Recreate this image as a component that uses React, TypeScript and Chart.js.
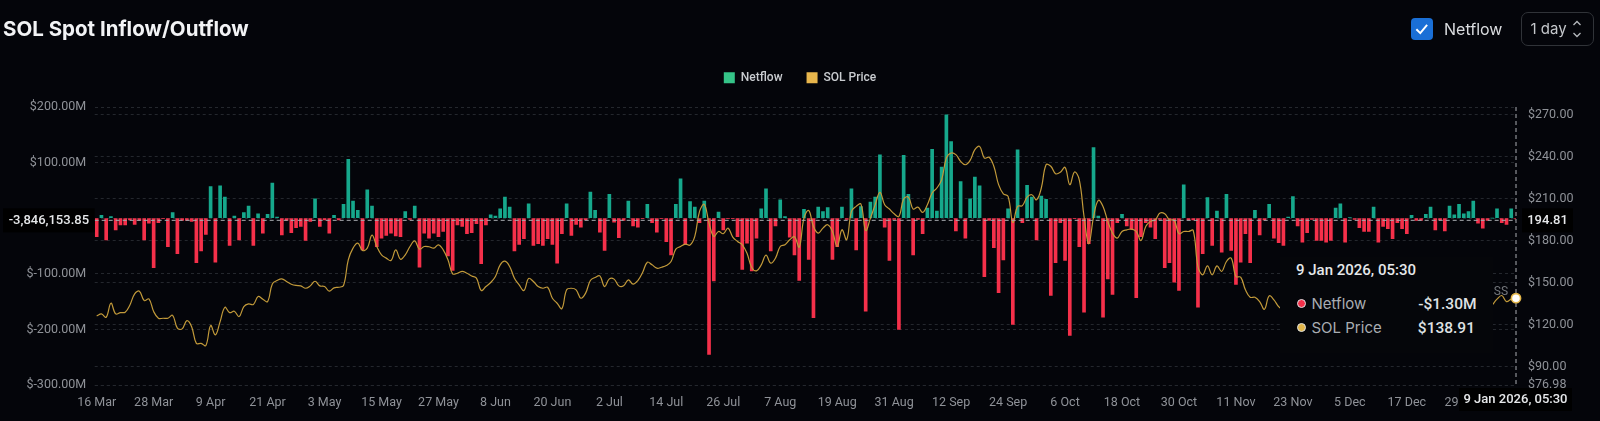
import React, { useEffect, useRef } from 'react';
import { Chart, registerables } from 'chart.js';

Chart.register(...registerables);

// one entry per day, 16 Mar 2025 to 9 Jan 2026, in $M
const netflowValues = [
  -33, 5, -39, 3, -21, -12, -12, -3, -11, -4,
  -39, -9, -89, -8, -1, -51, 10, -64, -4, -4,
  -6, -80, -59, -29, 57, -79, 58, 38, -49, 4,
  -39, 10, 22, -49, 8, -27, 7, 63, 2, -30,
  -4, -26, -17, -15, -40, -6, 35, -15, -3, -27,
  5, -3, 25, 106, 31, 14, -57, 51, 22, -51,
  -36, -31, -27, -32, -33, 12, -2, 22, -88, -27,
  -36, -27, -33, -24, -68, -94, -12, -15, -28, -26,
  -10, -82, -12, 6, 4, 17, 38, 20, -59, -47,
  -37, 26, -49, -46, -49, -37, -47, -81, -28, 26,
  -31, -11, -16, -3, 47, 14, -25, -58, 43, -7,
  -35, -4, 31, -14, -16, -1, 25, -8, -25, -1,
  -42, -66, 25, 71, -47, 30, 20, -8, 31, -245,
  -113, 11, -21, -1, -1, -33, -92, -45, -95, -36,
  17, 53, -59, -14, 33, 3, -34, -66, -112, 16,
  -74, -179, 20, 12, 19, -74, -51, 20, -2, 53,
  -57, 21, -167, 29, 38, 114, -16, -76, -2, -200,
  113, 43, -66, -2, -28, 18, 124, 13, 92, 186,
  138, -23, 66, -36, 35, 74, 58, -105, -4, -53,
  -134, -75, 17, -191, 123, -8, 59, 38, -39, 40,
  34, -139, -80, -8, -76, -211, -1, -51, -169, -46,
  127, 4, -178, -109, -137, -8, 7, -14, -20, -143,
  -33, -8, -16, -37, -2, -89, -80, -115, -130, 60,
  -3, -3, -160, -64, 37, -49, 13, -61, 43, -58,
  -119, -79, -28, -80, 14, -30, -3, 25, -36, -44,
  -49, 2, 39, -14, -43, -26, -2, -40, -40, -43,
  -40, 18, 26, -43, 1, -2, -17, -24, -24, 20,
  -43, -15, -19, -37, -8, -19, -28, 5, -4, -4,
  7, 20, -21, -3, -23, 22, 6, 25, 8, 12,
  31, -9, -18, -4, 0, 17, -8, -11, 17, -1.3,
];

// null where the tooltip hides the line
const solPrices = [
  126.3, 127.7, 125.3, 135.3, 127.7, 128.6, 128.9, 134.1, 142, 143.9,
  137.2, 138.4, 129.4, 124.6, 124.6, 124.6, 126.7, 117.5, 117, 122.9,
  118.6, 106.7, 106.7, 105.1, 119.4, 112.7, 122.2, 132.4, 128.6, 129.6,
  125.8, 132.9, 134.8, 134.4, 140.1, 138.2, 136.5, 149.1, 151.5, 152.7,
  150.8, 148.9, 148, 147.7, 146, 147.7, 151, 147.7, 147.2, 143.9,
  146.3, 146.7, 148, 166.3, 174.6, 178.2, 173, 174.6, 183.9, 175.8,
  169.8, 167.5, 165.8, 173.4, 166.7, 169.8, 175.8, 179.8, 173.9, 175.8,
  175.6, 174.6, 177, 173.4, 166.3, 156.3, 156.7, 158, 156.7, 154.8,
  153.2, 144.4, 147.2, 150.1, 154.4, 162.7, 165.3, 161.5, 153.2, 148.4,
  144.4, 153, 150.8, 147.2, 146, 146.7, 138.9, 135.3, 131.5, 144.9,
  146, 144.9, 138.9, 142.5, 151.5, 153.7, 154.8, 147.2, 152.7, 152.5,
  147.7, 147.7, 152, 148.9, 151.5, 157.2, 164.6, 162.7, 160.3, 161,
  162.2, 165.1, 173.9, 175.8, 177.5, 176.8, 183, 200.8, 205.8, 192.5,
  183, 186.5, 184.9, 188.9, 182.5, 179.4, 177, 171, 160.8, 158.4,
  162.7, 169.6, 163.9, 167.5, 175.8, 177, 180.6, 182.7, 175.3, 196,
  201.5, 190.1, 185.3, 188.9, 191.3, 186.5, 175.8, 187.7, 180.6, 200.8,
  204.4, 206, 187.2, 196, 205.6, 214.4, 205.6, 202.5, 199.1, 197.2,
  209.6, 211, 202.5, 203.9, 200.1, 205.6, 213.9, 217.5, 223.4, 238.9,
  242.5, 241.3, 236.5, 234.1, 237.2, 244.9, 247.2, 238.9, 239.4, 233,
  219.9, 213.4, 211.5, 193, 204.4, 204.9, 211, 212.7, 209.1, 217.5,
  234.1, 233, 227.7, 228.7, 232.2, 219.9, 228.9, 223.4, 197.2, 177.7,
  196.8, 208.7, 204.4, 193.7, 185.3, 181.8, 186.5, 187.7, 188.2, 186.5,
  180.1, 190.1, 193.7, 194.9, 199.6, 199.1, 194.9, 194.4, 184.9, 186.5,
  186.5, 187.2, 161.5, 155.6, 162, 155.6, 162, 158, 165.1, 167.5,
  154.4, 153.9, 144.9, 139.6, 139.6, 136.5, 131, 140.6, 137.7, 132.9,
  130.5, null, null, null, null, null, null, null, null, null,
  null, null, null, null, null, null, null, null, null, null,
  null, null, null, null, null, null, null, null, null, null,
  null, null, null, null, null, null, null, null, null, null,
  null, null, null, null, 134.1, 138.2, 140.8, 136.5, 138.2, 138.91,
];

const dateTicks = [0, 12, 24, 36, 48, 60, 72, 84, 96, 108, 120, 132, 144, 156, 168, 180, 192, 204, 216, 228, 240, 252, 264, 276, 288];
const dateLabels = ['16 Mar', '28 Mar', '9 Apr', '21 Apr', '3 May', '15 May', '27 May', '8 Jun', '20 Jun', '2 Jul', '14 Jul', '26 Jul', '7 Aug', '19 Aug', '31 Aug', '12 Sep', '24 Sep', '6 Oct', '18 Oct', '30 Oct', '11 Nov', '23 Nov', '5 Dec', '17 Dec', '29 Dec'];
const priceTicks = [76.98, 90, 120, 150, 180, 210, 240, 270];

const GREEN = '#16a88c';
const RED = '#f5304a';
const GOLD = '#c29a3a';
const BG = '#04050a';
const TICK = '#8f9298';
const GRID = '#24272d';
const FONT = 'Roboto, sans-serif';

const hoverIndex = 299;
const hoverFlow = -3.84615385;
const hoverPrice = 194.81;

function boxedLabel(ctx: CanvasRenderingContext2D, text: string, x: number, y: number, w: number, h: number) {
  ctx.fillStyle = '#000';
  ctx.fillRect(x, y, w, h);
  ctx.fillStyle = '#e6e8ea';
  ctx.font = `500 13px ${FONT}`;
  ctx.textAlign = 'center';
  ctx.textBaseline = 'middle';
  ctx.fillText(text, x + w / 2, y + h / 2);
}

const crosshair = {
  id: 'crosshair',
  afterDraw(chart: any) {
    const { ctx, chartArea, scales } = chart;
    const x = scales.x.getPixelForValue(hoverIndex);
    const y = scales.y.getPixelForValue(hoverFlow);
    const lineY = scales.price.getPixelForValue(solPrices[hoverIndex]);

    ctx.save();
    ctx.strokeStyle = '#a9acb1';
    ctx.lineWidth = 1;
    ctx.setLineDash([4, 3]);
    ctx.beginPath();
    ctx.moveTo(chartArea.left, y);
    ctx.lineTo(x, y);
    ctx.moveTo(x, chartArea.top);
    ctx.lineTo(x, chartArea.bottom);
    ctx.stroke();
    ctx.setLineDash([]);

    ctx.fillStyle = '#74777c';
    ctx.font = `12px ${FONT}`;
    ctx.textAlign = 'right';
    ctx.textBaseline = 'middle';
    ctx.fillText('SS', x - 8, lineY - 6);

    ctx.beginPath();
    ctx.arc(x, lineY, 4.6, 0, Math.PI * 2);
    ctx.fillStyle = '#ffffff';
    ctx.fill();
    ctx.strokeStyle = '#e3b64a';
    ctx.lineWidth = 1.6;
    ctx.stroke();

    boxedLabel(ctx, '-3,846,153.85', 3, y - 12, chartArea.left - 3, 24);
    boxedLabel(ctx, hoverPrice.toFixed(2), x + 6, y - 12, 51, 24);
    boxedLabel(ctx, '9 Jan 2026, 05:30', x - 57, chartArea.bottom + 3, 113, 23);
    ctx.restore();
  },
};

const App: React.FC = () => {
  const canvasRef = useRef<HTMLCanvasElement>(null);

  useEffect(() => {
    document.body.style.margin = '0';
    document.body.style.background = BG;
    if (!canvasRef.current) return;

    const chart = new Chart(canvasRef.current, {
      type: 'bar',
      data: {
        datasets: [
          {
            type: 'line',
            label: 'SOL Price',
            data: solPrices.map((y, x) => ({ x, y })),
            yAxisID: 'price',
            borderColor: GOLD,
            borderWidth: 1.2,
            pointRadius: 0,
            tension: 0.4,
            order: 1,
          },
          {
            type: 'bar',
            label: 'Netflow',
            data: netflowValues.map((y, x) => ({ x, y })),
            yAxisID: 'y',
            backgroundColor: netflowValues.map((v) => (v >= 0 ? GREEN : RED)),
            barThickness: 3,
            order: 2,
          },
        ],
      } as any,
      options: {
        responsive: false,
        animation: false,
        events: [],
        layout: { padding: { top: 47.7 } },
        plugins: {
          tooltip: { enabled: false },
          // empty subtitle only holds the gap between legend and plot
          subtitle: {
            display: true,
            text: ' ',
            weight: 0,
            font: { size: 10, lineHeight: 1 },
            padding: { top: 0, bottom: 3.3 },
          },
          legend: {
            position: 'top',
            labels: {
              boxWidth: 11,
              boxHeight: 11,
              padding: 24,
              color: '#c9ccd0',
              font: { family: FONT, size: 12, weight: 500 },
              generateLabels: () => [
                { text: 'Netflow', fillStyle: '#35c488', strokeStyle: '#35c488', fontColor: '#c9ccd0', lineWidth: 0, datasetIndex: 1 },
                { text: 'SOL Price', fillStyle: '#e8b64c', strokeStyle: '#e8b64c', fontColor: '#c9ccd0', lineWidth: 0, datasetIndex: 0 },
              ],
            },
          },
        },
        scales: {
          x: {
            type: 'linear',
            min: -0.42,
            max: 299,
            offset: false,
            grid: { display: false },
            border: { display: false },
            afterBuildTicks: (axis: any) => {
              axis.ticks = dateTicks.map((value) => ({ value }));
            },
            afterFit: (axis: any) => {
              axis.height = 36;
            },
            ticks: {
              autoSkip: false,
              maxRotation: 0,
              padding: 2,
              color: TICK,
              font: { family: FONT, size: 12.5 },
              callback: (value: any) => dateLabels[dateTicks.indexOf(value)],
            },
          },
          y: {
            position: 'left',
            min: -300,
            max: 200,
            grid: { color: GRID, drawTicks: false },
            border: { display: false, dash: [3, 3] },
            afterFit: (axis: any) => {
              axis.width = 94.7;
            },
            ticks: {
              stepSize: 100,
              padding: 8.5,
              color: TICK,
              font: { family: FONT, size: 12.5 },
              callback: (value: any) => (value === 0 ? '' : `$${Number(value).toFixed(2)}M`),
            },
          },
          price: {
            position: 'right',
            min: 76.98,
            max: 275.3,
            grid: { color: GRID, drawTicks: false },
            border: { display: false, dash: [3, 3] },
            afterBuildTicks: (axis: any) => {
              axis.ticks = priceTicks.map((value) => ({ value }));
            },
            afterFit: (axis: any) => {
              axis.width = 84;
            },
            ticks: {
              padding: 12,
              color: TICK,
              font: { family: FONT, size: 12.5 },
              callback: (value: any) => `$${Number(value).toFixed(2)}`,
            },
          },
        },
      } as any,
      plugins: [crosshair],
    });

    return () => {
      chart.destroy();
    };
  }, []);

  const abs = (left: number, top: number, extra: React.CSSProperties = {}): React.CSSProperties => ({
    position: 'absolute',
    left,
    top,
    whiteSpace: 'nowrap',
    ...extra,
  });

  const dot = (color: string, top: number) => (
    <div style={abs(1296.5, top, { width: 7, height: 7, borderRadius: '50%', background: color, border: '1.5px solid #dfe1e3' })} />
  );

  return (
    <div style={{ position: 'relative', width: 1600, height: 421, background: BG, overflow: 'hidden', fontFamily: 'Inter, sans-serif' }}>
      <canvas ref={canvasRef} width={1600} height={421} style={{ position: 'absolute', left: 0, top: 0 }} />

      <div style={abs(3, 16, { fontSize: 20.5, lineHeight: '26px', fontWeight: 700, color: '#f2f3f5' })}>SOL Spot Inflow/Outflow</div>

      <div style={abs(1411, 18, { width: 21.5, height: 21.5, borderRadius: 4, background: '#1a6fd6' })}>
        <svg width="21.5" height="21.5" viewBox="0 0 22 22">
          <path d="M5.5 11.5 L9.5 15.5 L16.5 7" fill="none" stroke="#fff" strokeWidth="2" />
        </svg>
      </div>
      <div style={abs(1444, 18, { fontSize: 16, lineHeight: '22px', color: '#dadcdf' })}>Netflow</div>

      <div style={abs(1520.5, 12, { width: 71, height: 32, border: '1px solid #303338', borderRadius: 7 })} />
      <div style={abs(1530.5, 18, { fontSize: 15, lineHeight: '22px', color: '#c4c7cb' })}>1 day</div>
      <svg width="10" height="20" viewBox="0 0 10 20" style={abs(1572, 19)}>
        <path d="M1.5 6 L5 2.5 L8.5 6 M1.5 14 L5 17.5 L8.5 14" fill="none" stroke="#b5b8bc" strokeWidth="1.3" />
      </svg>

      <div style={abs(1280, 257, { width: 213, height: 96, background: '#05060a' })} />
      <div style={abs(1296, 259, { fontFamily: FONT, fontSize: 15, lineHeight: '22px', fontWeight: 500, color: '#e6e8ea' })}>9 Jan 2026, 05:30</div>
      {dot(RED, 299)}
      <div style={abs(1311.5, 293, { fontSize: 15, lineHeight: '22px', color: '#a9adb2' })}>Netflow</div>
      <div style={{ ...abs(0, 293), left: 'auto', right: 123.5, fontFamily: FONT, fontSize: 15.5, lineHeight: '22px', fontWeight: 500, color: '#dfe1e3' }}>-$1.30M</div>
      {dot('#e3b64a', 323)}
      <div style={abs(1311.5, 316.5, { fontSize: 15, lineHeight: '22px', color: '#a9adb2' })}>SOL Price</div>
      <div style={{ ...abs(0, 316.5), left: 'auto', right: 125, fontFamily: FONT, fontSize: 15.5, lineHeight: '22px', fontWeight: 500, color: '#dfe1e3' }}>$138.91</div>
    </div>
  );
};

export default App;
